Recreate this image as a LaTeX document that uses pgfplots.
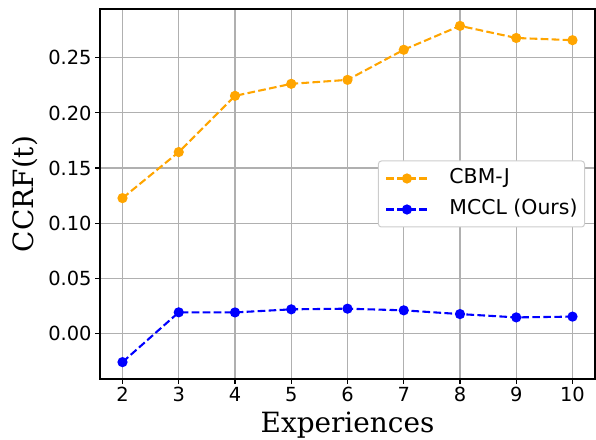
\documentclass[border=0pt]{standalone}
\usepackage{pgfplots}
\pgfplotsset{compat=1.18}
\usepackage{fontspec}
\setmainfont{DejaVu Sans}
\newfontfamily\seriffont{DejaVu Serif}

\definecolor{mplorange}{HTML}{FFA500}
\definecolor{mplblue}{HTML}{0000FF}
\definecolor{gridgray}{HTML}{B0B0B0}
\definecolor{legendedge}{HTML}{CCCCCC}

\begin{document}
\begin{tikzpicture}
\begin{axis}[
    scale only axis,
    width=495bp, height=370bp,
    xmin=1.6, xmax=10.4,
    ymin=-0.0414, ymax=0.2943,
    xtick={2,3,4,5,6,7,8,9,10},
    ytick={0,0.05,0.1,0.15,0.2,0.25},
    yticklabel style={/pgf/number format/.cd, fixed, fixed zerofill, precision=2},
    /pgf/number format/assume math mode=true,
    ticklabel style={font=\fontsize{19.5}{22}\selectfont},
    tick align=outside,
    tick pos=left,
    major tick length=4.9bp,
    tick style={black, line width=1.1bp},
    axis line style={line width=1.1bp},
    grid=major,
    grid style={gridgray, line width=1.1bp},
    xlabel={\seriffont Experiences},
    ylabel={\seriffont CCRF(t)},
    label style={font=\fontsize{28}{30}\selectfont},
    xlabel style={at={(rel axis cs:0.5,0)}, anchor=base, yshift=-53bp},
    ylabel style={at={(rel axis cs:0,0.5)}, anchor=center, yshift=75bp},
    legend style={at={(1,0.5)}, xshift=-10bp, anchor=east,
        font=\fontsize{20.5}{23}\selectfont,
        draw=legendedge, line width=1bp, rounded corners=3bp,
        inner xsep=7bp, inner ysep=7.5bp, row sep=11bp,
        nodes={inner sep=0bp, text height=15bp, text depth=5bp},
        /tikz/every odd column/.style={column sep=21bp}},
    legend cell align=left,
    legend image code/.code={
        \draw[#1, mark repeat=2, mark phase=2] plot coordinates {(0bp,0bp) (20.5bp,0bp) (41bp,0bp)};
    },
]
\addplot[mplorange, line width=2.08bp, dash pattern=on 7.7bp off 3.3bp,
    mark=*, mark size=4bp, mark options={solid}]
coordinates {
(2,0.1227)(3,0.1645)(4,0.2155)(5,0.2264)(6,0.2300)(7,0.2573)(8,0.2790)(9,0.2680)(10,0.2660)
};
\addlegendentry{CBM-J}
\addplot[mplblue, line width=2.08bp, dash pattern=on 7.7bp off 3.3bp,
    mark=*, mark size=4bp, mark options={solid}]
coordinates {
(2,-0.0261)(3,0.0191)(4,0.0190)(5,0.0218)(6,0.0224)(7,0.0209)(8,0.0175)(9,0.0145)(10,0.0152)
};
\addlegendentry{MCCL (Ours)}
\end{axis}
\pgfresetboundingbox
\path[use as bounding box] ([xshift=-100bp,yshift=-61bp]current axis.south west) rectangle ([xshift=1bp,yshift=9bp]current axis.north east);
\end{tikzpicture}
\end{document}
